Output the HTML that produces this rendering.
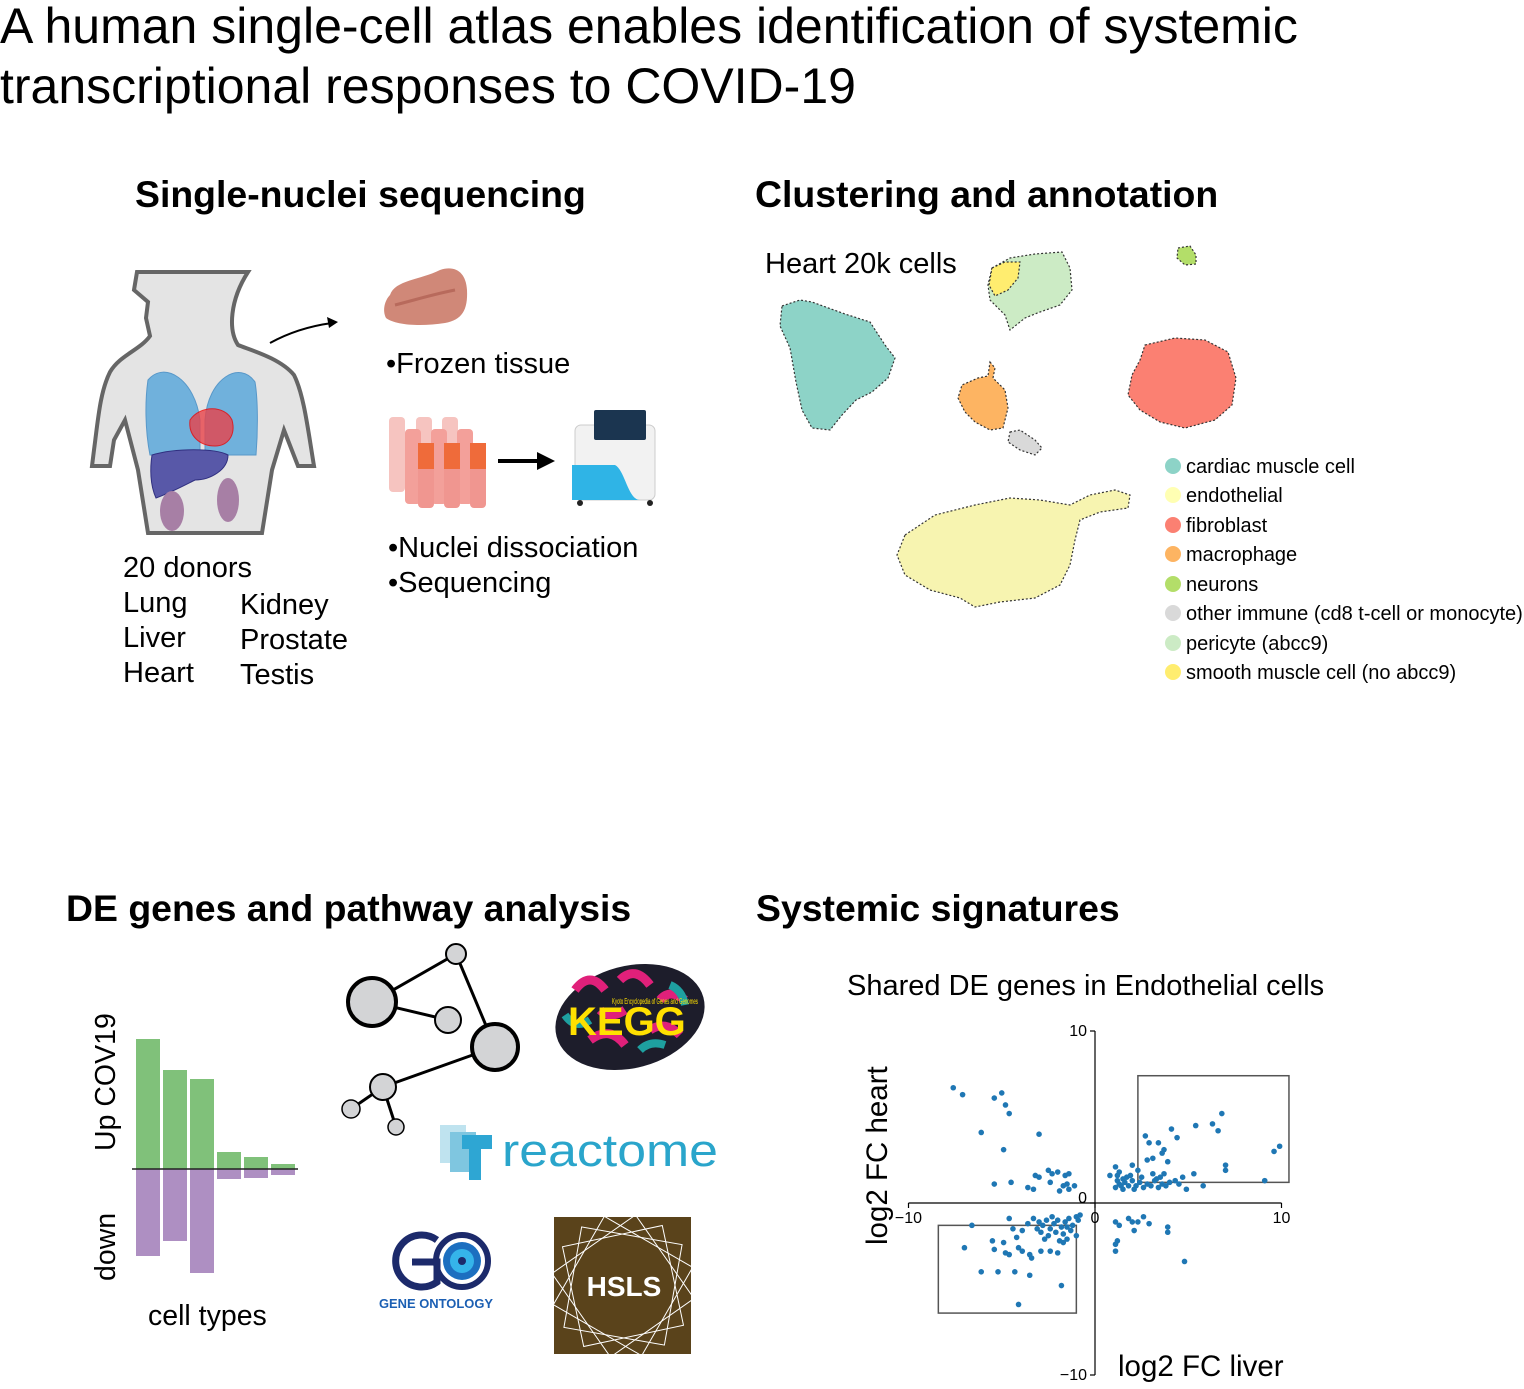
<!DOCTYPE html>
<html><head><meta charset="utf-8"><style>
body{margin:0;width:1524px;height:1389px;background:#fff;overflow:hidden;font-family:"Liberation Sans",sans-serif;}
svg{position:absolute;left:0;top:0}
</style></head><body>
<svg width="1524" height="1389" viewBox="0 0 1524 1389">
<g font-family="Liberation Sans, sans-serif">
<text x="0" y="43" font-size="50">A human single-cell atlas enables identification of systemic</text>
<text x="0" y="103" font-size="50">transcriptional responses to COVID-19</text>
<text x="135" y="207" font-size="37.4" font-weight="bold">Single-nuclei sequencing</text>
<text x="755" y="207" font-size="37.4" font-weight="bold">Clustering and annotation</text>
<text x="66" y="921" font-size="37.4" font-weight="bold">DE genes and pathway analysis</text>
<text x="756" y="921" font-size="37.4" font-weight="bold">Systemic signatures</text>
</g>

<g>
<path d="M137,272 L134,290 L148,302 L146,318 L150,336 C140,350 120,355 110,372 C100,392 98,420 94,450 L92,466 L110,466 L114,440 L125,420 L138,470 L148,533 L262,533 L272,470 L284,430 L298,466 L314,466 C308,430 304,395 294,375 C280,358 250,350 238,345 C228,330 230,300 248,272 Z" fill="#e4e4e4" stroke="#666" stroke-width="4"/>
<path d="M148,380 C165,360 195,380 200,420 L200,455 L150,455 C145,430 145,400 148,380Z" fill="#4aa0da" opacity="0.75" stroke="#2a7fc0"/>
<path d="M255,382 C240,360 208,378 205,420 L205,455 L256,455 C258,430 258,400 255,382Z" fill="#4aa0da" opacity="0.75" stroke="#2a7fc0"/>
<path d="M190,420 C200,405 225,405 232,420 C236,435 228,446 215,446 C200,446 188,436 190,420Z" fill="#e8434a" opacity="0.8" stroke="#e00"/>
<path d="M152,455 C175,448 215,448 228,455 C228,470 210,480 195,480 C185,485 172,492 156,498 C150,485 150,468 152,455Z" fill="#5858a8" stroke="#303080"/>
<ellipse cx="172" cy="511" rx="12" ry="20" fill="#a77fa5"/>
<ellipse cx="228" cy="500" rx="11" ry="22" fill="#a77fa5"/>
<path d="M270,343 C290,332 310,326 332,323" fill="none" stroke="#000" stroke-width="2"/>
<polygon points="338,322 327,317 329,328" fill="#000"/>
</g>
<g>
<path d="M390,295 C395,280 420,280 440,270 C455,265 466,272 467,290 C468,310 462,320 445,323 C420,327 395,325 386,318 C382,310 385,300 390,295Z" fill="#d08878"/>
<path d="M395,305 C415,300 430,295 455,290" stroke="#b86a5c" stroke-width="3" fill="none"/>
</g>
<g>
<rect x="389" y="417" width="16" height="75" rx="4" fill="#f6c4c0"/>
<rect x="416" y="417" width="16" height="75" rx="4" fill="#f6c4c0"/>
<rect x="442" y="417" width="16" height="75" rx="4" fill="#f6c4c0"/>
<rect x="405" y="429" width="16" height="75" rx="4" fill="#f3a09a"/>
<rect x="431" y="429" width="16" height="75" rx="4" fill="#f3a09a"/>
<rect x="457" y="429" width="16" height="75" rx="4" fill="#f3a09a"/>
<rect x="418" y="443" width="16" height="65" rx="4" fill="#f09690"/>
<rect x="444" y="443" width="16" height="65" rx="4" fill="#f09690"/>
<rect x="470" y="443" width="16" height="65" rx="4" fill="#f09690"/>
<rect x="418" y="443" width="16" height="26" fill="#ef6b3a"/>
<rect x="444" y="443" width="16" height="26" fill="#ef6b3a"/>
<rect x="470" y="443" width="16" height="26" fill="#ef6b3a"/>
</g>
<g>
<line x1="498" y1="461" x2="540" y2="461" stroke="#000" stroke-width="4"/>
<polygon points="555,461 537,452 537,470" fill="#000"/>
</g>
<g>
<rect x="575" y="425" width="80" height="75" rx="6" fill="#f2f2f2" stroke="#ccc"/>
<path d="M572,465 L615,465 C625,470 628,500 640,500 L572,500Z" fill="#2fb4e6"/>
<rect x="594" y="410" width="52" height="30" rx="2" fill="#1b3550"/>
<circle cx="580" cy="503" r="3" fill="#222"/><circle cx="650" cy="503" r="3" fill="#222"/>
</g>
<g font-family="Liberation Sans, sans-serif" font-size="29" fill="#000">
<text x="386" y="373">•Frozen tissue</text>
<text x="388" y="557">•Nuclei dissociation</text>
<text x="388" y="592">•Sequencing</text>
<text x="123" y="577">20 donors</text>
<text x="123" y="612">Lung</text>
<text x="123" y="647">Liver</text>
<text x="123" y="682">Heart</text>
<text x="240" y="614">Kidney</text>
<text x="240" y="649">Prostate</text>
<text x="240" y="684">Testis</text>
<text x="765" y="273">Heart 20k cells</text>
</g>

<g stroke="#333" stroke-width="1.2" stroke-dasharray="2 2">
<polygon fill="#8dd3c7" points="782,306 800,300 812,302 845,314 870,322 885,345 895,358 888,378 872,392 856,400 842,415 830,430 812,428 802,410 796,382 790,348 780,326"/>
<polygon fill="#ccebc5" points="992,268 1010,258 1035,254 1062,252 1070,268 1072,290 1060,305 1040,312 1025,318 1010,330 1005,315 990,300 988,285"/>
<polygon fill="#ffed6f" points="992,268 1005,262 1020,262 1018,278 1008,290 995,296 989,285"/>
<polygon fill="#b3de69" points="1178,248 1190,246 1196,255 1196,264 1185,265 1177,258"/>
<polygon fill="#fdb462" points="990,362 995,368 993,378 1005,390 1008,408 1003,428 990,430 975,422 965,412 958,398 962,385 978,378 988,376"/>
<polygon fill="#d9d9d9" points="1010,432 1020,430 1035,440 1042,448 1035,455 1020,450 1008,442"/>
<polygon fill="#fb8072" points="1145,345 1175,338 1205,340 1228,352 1236,378 1232,405 1215,420 1185,428 1160,422 1140,410 1128,395 1132,375 1140,360"/>
<polygon fill="#f7f4b0" points="905,535 935,515 975,505 1010,498 1040,500 1070,505 1090,495 1115,490 1130,495 1128,508 1100,512 1080,520 1075,540 1070,565 1060,585 1035,598 1000,602 975,607 960,598 930,590 905,575 897,555"/>
</g>
<g font-family="Liberation Sans, sans-serif" font-size="20">
<circle cx="1173" cy="466" r="8" fill="#8dd3c7"/><text x="1186" y="473">cardiac muscle cell</text>
<circle cx="1173" cy="495" r="8" fill="#ffffb3"/><text x="1186" y="502">endothelial</text>
<circle cx="1173" cy="525" r="8" fill="#fb8072"/><text x="1186" y="532">fibroblast</text>
<circle cx="1173" cy="554" r="8" fill="#fdb462"/><text x="1186" y="561">macrophage</text>
<circle cx="1173" cy="584" r="8" fill="#b3de69"/><text x="1186" y="591">neurons</text>
<circle cx="1173" cy="613" r="8" fill="#d9d9d9"/><text x="1186" y="620">other immune (cd8 t-cell or monocyte)</text>
<circle cx="1173" cy="643" r="8" fill="#ccebc5"/><text x="1186" y="650">pericyte (abcc9)</text>
<circle cx="1173" cy="672" r="8" fill="#ffed6f"/><text x="1186" y="679">smooth muscle cell (no abcc9)</text>
</g>

<g id="bars"></g>
<g font-family="Liberation Sans, sans-serif" font-size="28.5">
<text transform="translate(115,1151) rotate(-90)">Up COV19</text>
<text transform="translate(115,1281) rotate(-90)">down</text>
<text x="148" y="1325">cell types</text>
</g>

<g stroke="#000" stroke-width="3" fill="#d3d4d6">
<line x1="372" y1="1002" x2="456" y2="954"/><line x1="372" y1="1002" x2="448" y2="1020"/>
<line x1="456" y1="954" x2="495" y2="1047"/><line x1="495" y1="1047" x2="383" y2="1087"/>
<line x1="383" y1="1087" x2="351" y2="1109"/><line x1="383" y1="1087" x2="396" y2="1127"/>
<circle cx="372" cy="1002" r="24" stroke-width="4"/><circle cx="495" cy="1047" r="23" stroke-width="4"/>
<circle cx="456" cy="954" r="10" stroke-width="2"/><circle cx="448" cy="1020" r="13" stroke-width="2"/>
<circle cx="383" cy="1087" r="13" stroke-width="2"/><circle cx="351" cy="1109" r="9" stroke-width="1.5"/>
<circle cx="396" cy="1127" r="8" stroke-width="1.5"/>
</g>
<g>
<ellipse cx="630" cy="1017" rx="76" ry="51" transform="rotate(-15 630 1017)" fill="#1d1d2b"/>
<path d="M575,990 q15,-20 30,0 M620,980 q15,-15 30,5 M590,1040 q20,-15 35,5 M650,1030 q15,-10 30,5 M600,1010 q10,10 25,0 M660,1000 q10,-12 25,0" stroke="#e0207a" stroke-width="9" fill="none"/>
<path d="M565,1015 q10,15 25,5 M640,1050 q10,-10 25,-5 M670,985 q12,5 15,20" stroke="#1ea0a0" stroke-width="8" fill="none"/>
<text x="568" y="1035" font-family="Liberation Sans, sans-serif" font-size="40" font-weight="bold" fill="#ffe000">KEGG</text>
<text x="612" y="1004" font-family="Liberation Sans, sans-serif" font-size="8" fill="#ffe000" textLength="86" lengthAdjust="spacingAndGlyphs">Kyoto Encyclopedia of Genes and Genomes</text>
</g>
<g>
<rect x="440" y="1125" width="26" height="38" fill="#bfe3ef"/>
<rect x="450" y="1132" width="26" height="40" fill="#7fc6e0"/>
<rect x="462" y="1135" width="30" height="14" fill="#2ea6d3"/>
<rect x="469" y="1135" width="12" height="45" fill="#2ea6d3"/>
<text x="502" y="1166" font-family="Liberation Sans, sans-serif" font-size="45" fill="#2aa5cb" textLength="216" lengthAdjust="spacingAndGlyphs">reactome</text>
</g>
<g>
<path d="M437,1240 A26,26 0 1 0 437,1282 L437,1262 L412,1262" fill="none" stroke="#1c2a6b" stroke-width="7"/>
<circle cx="462" cy="1261" r="26" fill="none" stroke="#1c2a6b" stroke-width="6"/>
<circle cx="462" cy="1261" r="19" fill="#1c6fc0"/>
<circle cx="462" cy="1261" r="12" fill="#35b4ea"/>
<circle cx="462" cy="1261" r="4" fill="#1c2a6b"/>
<text x="379" y="1308" font-family="Liberation Sans, sans-serif" font-size="12.5" font-weight="bold" fill="#1b5fb3" textLength="114" lengthAdjust="spacingAndGlyphs">GENE ONTOLOGY</text>
</g>
<g>
<rect x="554" y="1217" width="137" height="137" fill="#5a431b"/>
<g fill="none" stroke="#fff" stroke-width="1">
<rect x="572" y="1235" width="102" height="102" transform="rotate(10 623 1286)"/>
<rect x="572" y="1235" width="102" height="102" transform="rotate(-12 623 1286)"/>
<rect x="572" y="1235" width="102" height="102" transform="rotate(30 623 1286)"/>
<rect x="572" y="1235" width="102" height="102" transform="rotate(-35 623 1286)"/>
</g>
<text x="624" y="1296" text-anchor="middle" font-family="Liberation Sans, sans-serif" font-size="28" font-weight="bold" fill="#fff">HSLS</text>
</g>

<text x="847" y="995" font-family="Liberation Sans, sans-serif" font-size="29">Shared DE genes in Endothelial cells</text>
<g id="scatter" font-family="Liberation Sans, sans-serif"></g>
<text transform="translate(887,1245) rotate(-90)" font-family="Liberation Sans, sans-serif" font-size="29.5">log2 FC heart</text>
<text x="1118" y="1376" font-family="Liberation Sans, sans-serif" font-size="29.5">log2 FC liver</text>
</svg>
<script>
const NS='http://www.w3.org/2000/svg';
const barCategories=['c1','c2','c3','c4','c5','c6'];
const upValues=[130,99,90,17,12,5];
const downValues=[87,72,104,10,9,6];
const bars=document.getElementById('bars');
const bx=i=>136+i*27, base=1169;
barCategories.forEach((c,i)=>{
  const u=document.createElementNS(NS,'rect');
  u.setAttribute('x',bx(i));u.setAttribute('y',base-upValues[i]);u.setAttribute('width',24);u.setAttribute('height',upValues[i]);u.setAttribute('fill','#80c17a');
  
  
  bars.appendChild(u);
  const d=document.createElementNS(NS,'rect');
  d.setAttribute('x',bx(i));d.setAttribute('y',base);d.setAttribute('width',24);d.setAttribute('height',downValues[i]);d.setAttribute('fill','#ae8fc2');
  
  
  bars.appendChild(d);
});
const bl=document.createElementNS(NS,'line');
bl.setAttribute('x1',132);bl.setAttribute('x2',298);bl.setAttribute('y1',base);bl.setAttribute('y2',base);bl.setAttribute('stroke','#222');bl.setAttribute('stroke-width',1.5);


bars.appendChild(bl);

const xTicks=[-10,0,10];
const yTicks=[-10,0,10];
const xs=[-7.6,-7.1,-5.4,-5.0,-4.8,-4.6,-6.1,-3.0,-4.9,-5.4,-4.5,-3.6,-3.3,-3.2,-3.0,-2.5,-2.3,-2.0,-2.4,-1.6,-1.4,-1.7,-1.9,-1.4,-1.1,-1.5,
0.8,1.1,1.2,1.3,1.5,1.7,2.0,2.3,2.7,2.9,2.8,3.1,3.4,3.7,3.6,3.9,4.1,4.4,5.4,6.3,6.8,6.6,7.0,7.0,5.3,5.8,9.1,9.6,9.9,3.1,3.7,4.7,4.9,
1.2,1.4,1.6,1.8,2.0,2.2,2.4,2.6,2.8,3.0,3.2,3.4,3.6,3.8,4.0,1.3,1.5,1.9,2.5,3.3,4.3,1.1,2.1,3.5,4.5,
1.1,1.3,1.8,2.0,2.3,2.6,2.9,2.1,3.9,3.9,1.2,1.1,1.1,4.8,
-6.6,-7.0,-6.1,-5.2,-4.3,-3.5,-1.8,-4.1,-5.5,-5.4,-4.9,-4.8,-4.6,-4.6,-4.4,-4.1,-3.9,-3.5,-3.4,-2.9,-2.4,-2.0,-1.7,-1.5,-1.0,-4.2,
-3.3,-3.0,-2.8,-2.6,-2.4,-2.2,-2.0,-1.8,-1.6,-1.4,-1.2,-1.0,-0.9,-2.9,-2.5,-2.1,-1.7,-1.3,-3.6,-3.9,-2.7,-1.9,-3.1,-2.3,-1.5,-0.8];
const ys=[6.7,6.3,6.1,6.4,5.7,5.2,4.1,4.0,3.1,1.1,1.2,0.9,0.8,1.6,1.5,1.9,1.7,1.8,1.2,1.6,1.7,1.0,0.7,0.8,1.0,1.1,
1.6,2.1,1.6,1.1,0.8,1.5,2.2,1.9,3.9,3.5,2.5,2.6,3.5,3.1,2.9,2.4,4.3,3.8,4.5,4.6,5.2,4.2,2.2,1.9,1.7,1.0,1.3,3.0,3.3,1.7,1.7,1.5,0.8,
1.3,1.0,1.2,1.0,1.3,1.0,1.2,0.9,1.1,1.0,1.3,0.9,1.1,1.0,1.2,1.8,1.4,1.6,1.5,1.4,1.3,0.9,0.8,1.5,1.1,
-1.1,-1.3,-0.9,-1.1,-1.1,-0.8,-1.2,-1.6,-1.4,-1.7,-2.2,-2.4,-2.8,-3.4,
-1.3,-2.6,-4.0,-4.0,-4.0,-4.2,-4.8,-5.9,-2.2,-2.7,-2.3,-2.9,-3.0,-0.9,-1.5,-2.6,-2.8,-3.0,-3.2,-2.8,-2.8,-2.9,-2.3,-2.1,-1.9,-2.0,
-0.9,-1.1,-1.3,-1.0,-1.5,-1.2,-1.0,-1.4,-1.1,-0.9,-1.3,-0.8,-1.0,-1.7,-1.9,-1.7,-1.8,-1.6,-1.2,-1.6,-2.1,-2.2,-1.5,-0.8,-1.4,-0.7];
const boxUpX=[2.3,10.4], boxUpY=[1.2,7.4];
const boxDnX=[-8.4,-1.0], boxDnY=[-1.3,-6.4];
const sx=v=>1095+v*18.65, sy=v=>1203-v*17.2;
const sc=document.getElementById('scatter');
function line(x1,y1,x2,y2,name){const l=document.createElementNS(NS,'line');l.setAttribute('x1',x1);l.setAttribute('y1',y1);l.setAttribute('x2',x2);l.setAttribute('y2',y2);l.setAttribute('stroke','#000');l.setAttribute('stroke-width',1.2);


sc.appendChild(l);}
line(sx(-10),sy(0),sx(10),sy(0),'x-axis');
line(sx(0),sy(-10),sx(0),sy(10),'y-axis');
xTicks.forEach(t=>{line(sx(t),sy(0),sx(t),sy(0)+5,'x-tick');
 const tx=document.createElementNS(NS,'text');tx.setAttribute('x',sx(t));tx.setAttribute('y',sy(0)+20);tx.setAttribute('font-size',16);tx.setAttribute('text-anchor','middle');tx.textContent=t<0?'\u2212'+(-t):t;
 
 
 sc.appendChild(tx);});
yTicks.forEach(t=>{line(sx(0)-5,sy(t),sx(0),sy(t),'y-tick');
 const tx=document.createElementNS(NS,'text');tx.setAttribute('x',sx(0)-8);tx.setAttribute('y',sy(t)+(t===0?0:5));tx.setAttribute('font-size',16);tx.setAttribute('text-anchor','end');tx.textContent=t<0?'\u2212'+(-t):t;
 
 
 sc.appendChild(tx);});
function box(X,Y,name){const r=document.createElementNS(NS,'rect');r.setAttribute('x',sx(X[0]));r.setAttribute('y',Math.min(sy(Y[0]),sy(Y[1])));r.setAttribute('width',sx(X[1])-sx(X[0]));r.setAttribute('height',Math.abs(sy(Y[1])-sy(Y[0])));r.setAttribute('fill','none');r.setAttribute('stroke','#555');r.setAttribute('stroke-width',1.5);


sc.appendChild(r);}
box(boxUpX,boxUpY,'box-shared-up');
box(boxDnX,boxDnY,'box-shared-down');
xs.forEach((x,i)=>{const c=document.createElementNS(NS,'circle');c.setAttribute('cx',sx(x));c.setAttribute('cy',sy(ys[i]));c.setAttribute('r',2.8);c.setAttribute('fill','#1f77b4');


sc.appendChild(c);});
</script>
</body></html>
